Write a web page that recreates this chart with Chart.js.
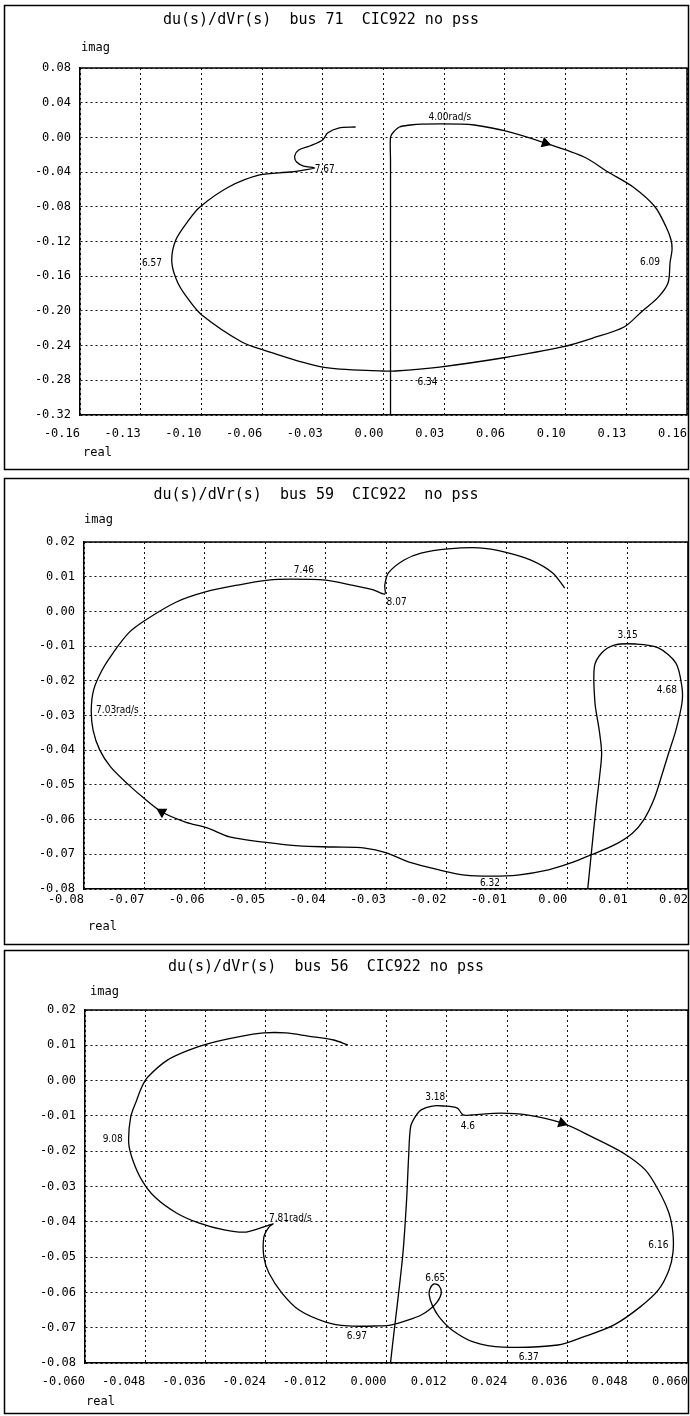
<!DOCTYPE html>
<html>
<head>
<meta charset="utf-8">
<title>du(s)/dVr(s) - CIC922 no pss</title>
<script src="https://cdn.jsdelivr.net/npm/chart.js@4.4.1/dist/chart.umd.min.js"></script>
<style>
  html, body { margin: 0; padding: 0; background: #fff; }
  canvas { display: block; }
</style>
</head>
<body>
<canvas id="bus71" width="690" height="474"></canvas>
<canvas id="bus59" width="690" height="474"></canvas>
<canvas id="bus56" width="690" height="468"></canvas>
<script>
// Frequency response du(s)/dVr(s), three buses

// ---- bus 71 ----
const bus71Title = 'du(s)/dVr(s)  bus 71  CIC922 no pss';
const bus71Real = [0.0037, 0.0037, 0.0037, 0.0053, 0.0084, 0.0142, 0.0200, 0.0410, 0.0479, 0.0642,
  0.0853, 0.1058, 0.1184, 0.1316, 0.1432, 0.1490, 0.1516, 0.1521, 0.1511, 0.1500,
  0.1445, 0.1365, 0.1268, 0.1105, 0.0942, 0.0626, 0.0295, 0.0063, -0.0005, -0.0321,
  -0.0632, -0.0747, -0.0958, -0.1026, -0.1084, -0.1116, -0.1095, -0.1026, -0.0968, -0.0816,
  -0.0653, -0.0495, -0.0421, -0.0363, -0.0421, -0.0458, -0.0468, -0.0447, -0.0389, -0.0321,
  -0.0295, -0.0237, -0.0147];
const bus71Imag = [-0.40, -0.026, 0.0005, 0.0062, 0.0120, 0.0143, 0.0154, 0.0154, 0.0143, 0.0074,
  -0.0065, -0.0226, -0.0399, -0.0572, -0.0802, -0.1033, -0.1183, -0.1298, -0.1436, -0.1678,
  -0.1850, -0.2000, -0.2186, -0.2312, -0.2416, -0.2543, -0.2647, -0.2693, -0.2693, -0.2647,
  -0.2451, -0.2359, -0.2047, -0.1874, -0.1678, -0.1436, -0.1183, -0.0952, -0.0802, -0.0572,
  -0.0433, -0.0399, -0.0376, -0.0353, -0.0330, -0.0284, -0.0214, -0.0145, -0.0099, -0.0030,
  0.0051, 0.0108, 0.0120];
const bus71ArrowIndex = 10;
const bus71FreqText = ['4.00rad/s', '6.09', '6.34', '6.57', '7.67'];
const bus71FreqReal = [0.0237, 0.1405, 0.0232, -0.1221, -0.0363];
const bus71FreqImag = [0.0235, -0.1436, -0.2820, -0.1448, -0.0364];
const bus71XTicks = [-0.16, -0.128, -0.096, -0.064, -0.032, 0, 0.032, 0.064, 0.096, 0.128, 0.16];
const bus71XTickLabels = ['-0.16', '-0.13', '-0.10', '-0.06', '-0.03', '0.00', '0.03', '0.06', '0.10', '0.13', '0.16'];
const bus71YTicks = [-0.32, -0.28, -0.24, -0.20, -0.16, -0.12, -0.08, -0.04, 0, 0.04, 0.08];
const bus71YTickLabels = ['-0.32', '-0.28', '-0.24', '-0.20', '-0.16', '-0.12', '-0.08', '-0.04', '0.00', '0.04', '0.08'];

// ---- bus 59 ----
const bus59Title = 'du(s)/dVr(s)  bus 59  CIC922  no pss';
const bus59Real = [0.0033, 0.0040, 0.0048, 0.0054, 0.0057, 0.0053, 0.0046, 0.0045, 0.0057, 0.0078,
  0.0114, 0.0151, 0.0180, 0.0190, 0.0190, 0.0180, 0.0168, 0.0157, 0.0144, 0.0127,
  0.0108, 0.0078, 0.0039, 0.0006, -0.0031, -0.0082, -0.0125, -0.0169, -0.0212, -0.0263,
  -0.0299, -0.0335, -0.0387, -0.0444, -0.0502, -0.0559, -0.0596, -0.0632, -0.0671, -0.0701,
  -0.0726, -0.0756, -0.0774, -0.0785, -0.0788, -0.0784, -0.0770, -0.0752, -0.0726, -0.0698,
  -0.0647, -0.0599, -0.0545, -0.0495, -0.0459, -0.0400, -0.0357, -0.0321, -0.0302, -0.0302,
  -0.0296, -0.0270, -0.0242, -0.0197, -0.0146, -0.0103, -0.0060, -0.0024, -0.0004];
const bus59Imag = [-0.0817, -0.0696, -0.0560, -0.0470, -0.0408, -0.0342, -0.0264, -0.0160, -0.0120, -0.0097,
  -0.0094, -0.0105, -0.0149, -0.0218, -0.0264, -0.0342, -0.0408, -0.0470, -0.0540, -0.0600,
  -0.0639, -0.0673, -0.0702, -0.0725, -0.0745, -0.0760, -0.0763, -0.0760, -0.0745, -0.0722,
  -0.0696, -0.0682, -0.0679, -0.0676, -0.0665, -0.0650, -0.0624, -0.0607, -0.0578, -0.0538,
  -0.0500, -0.0448, -0.0399, -0.0342, -0.0284, -0.0226, -0.0169, -0.0120, -0.0062, -0.0025,
  0.0027, 0.0056, 0.0076, 0.0090, 0.0093, 0.0090, 0.0076, 0.0062, 0.0050, 0.0076,
  0.0111, 0.0148, 0.0168, 0.0180, 0.0183, 0.0171, 0.0148, 0.0111, 0.0067];
const bus59ArrowIndex = 38;
const bus59FreqText = ['3.15', '4.68', '6.32', '7.03rad/s', '7.46', '8.07'];
const bus59FreqReal = [0.0100, 0.0165, -0.0128, -0.0780, -0.0436, -0.0299];
const bus59FreqImag = [-0.0068, -0.0227, -0.0783, -0.0284, 0.0119, 0.0027];
const bus59XTicks = [-0.08, -0.07, -0.06, -0.05, -0.04, -0.03, -0.02, -0.01, 0, 0.01, 0.02];
const bus59XTickLabels = ['-0.08', '-0.07', '-0.06', '-0.05', '-0.04', '-0.03', '-0.02', '-0.01', '0.00', '0.01', '0.02'];
const bus59YTicks = [-0.08, -0.07, -0.06, -0.05, -0.04, -0.03, -0.02, -0.01, 0, 0.01, 0.02];
const bus59YTickLabels = ['-0.08', '-0.07', '-0.06', '-0.05', '-0.04', '-0.03', '-0.02', '-0.01', '0.00', '0.01', '0.02'];

// ---- bus 56 ----
const bus56Title = 'du(s)/dVr(s)  bus 56  CIC922 no pss';
const bus56Real = [0.0006, 0.0008, 0.0032, 0.0040, 0.0044, 0.0048, 0.0057, 0.0069, 0.0091, 0.0113,
  0.0141, 0.0152, 0.0170, 0.0228, 0.0279, 0.0349, 0.0410, 0.0471, 0.0515, 0.0541,
  0.0562, 0.0570, 0.0570, 0.0562, 0.0541, 0.0505, 0.0453, 0.0392, 0.0341, 0.0232,
  0.0174, 0.0131, 0.0105, 0.0091, 0.0085, 0.0087, 0.0095, 0.0105, 0.0109, 0.0101,
  0.0087, 0.0069, 0.0044, 0.0010, -0.0016, -0.0077, -0.0121, -0.0174, -0.0208, -0.0234,
  -0.0244, -0.0244, -0.0234, -0.0226, -0.0279, -0.0323, -0.0374, -0.0418, -0.0461, -0.0487,
  -0.0505, -0.0513, -0.0509, -0.0497, -0.0487, -0.0475, -0.0436, -0.0392, -0.0349, -0.0295,
  -0.0244, -0.0200, -0.0156, -0.0105, -0.0077];
const bus56Imag = [-0.0848, -0.0800, -0.0500, -0.0338, -0.0216, -0.0131, -0.0103, -0.0083, -0.0072, -0.0072,
  -0.0078, -0.0097, -0.0097, -0.0092, -0.0097, -0.0120, -0.0160, -0.0205, -0.0253, -0.0310,
  -0.0375, -0.0432, -0.0488, -0.0537, -0.0593, -0.0641, -0.0692, -0.0726, -0.0749, -0.0755,
  -0.0741, -0.0707, -0.0670, -0.0636, -0.0607, -0.0588, -0.0576, -0.0582, -0.0602, -0.0627,
  -0.0647, -0.0664, -0.0678, -0.0692, -0.0695, -0.0695, -0.0684, -0.0650, -0.0602, -0.0545,
  -0.0500, -0.0443, -0.0415, -0.0406, -0.0429, -0.0423, -0.0403, -0.0375, -0.0330, -0.0282,
  -0.0225, -0.0177, -0.0103, -0.0055, -0.0018, 0.0010, 0.0058, 0.0087, 0.0107, 0.0124,
  0.0135, 0.0135, 0.0126, 0.0115, 0.0101];
const bus56ArrowIndex = 15;
const bus56FreqText = ['3.18', '4.6', '6.16', '6.37', '6.65', '6.97', '7.81rad/s', '9.08'];
const bus56FreqReal = [0.0097, 0.0162, 0.0541, 0.0283, 0.0097, -0.0059, -0.0234, -0.0545];
const bus56FreqImag = [-0.0049, -0.0131, -0.0466, -0.0783, -0.0559, -0.0726, -0.0389, -0.0168];
const bus56XTicks = [-0.06, -0.048, -0.036, -0.024, -0.012, 0, 0.012, 0.024, 0.036, 0.048, 0.06];
const bus56XTickLabels = ['-0.060', '-0.048', '-0.036', '-0.024', '-0.012', '0.000', '0.012', '0.024', '0.036', '0.048', '0.060'];
const bus56YTicks = [-0.08, -0.07, -0.06, -0.05, -0.04, -0.03, -0.02, -0.01, 0, 0.01, 0.02];
const bus56YTickLabels = ['-0.08', '-0.07', '-0.06', '-0.05', '-0.04', '-0.03', '-0.02', '-0.01', '0.00', '0.01', '0.02'];

const MONO = '"DejaVu Sans Mono", monospace';
const NARROW = '"Liberation Sans Narrow", "DejaVu Sans Condensed", sans-serif';

// layout of each panel in canvas pixels (the plot box, the outer frame, text anchors)
const panels = [
  {
    id: 'bus71', title: bus71Title, real: bus71Real, imag: bus71Imag, arrowIndex: bus71ArrowIndex, arrowRotation: 108,
    freqText: bus71FreqText, freqReal: bus71FreqReal, freqImag: bus71FreqImag,
    freqAlign: ['left', 'center', 'center', 'center', 'left'],
    xTicks: bus71XTicks, xTickLabels: bus71XTickLabels, yTicks: bus71YTicks, yTickLabels: bus71YTickLabels,
    area: { left: 80, right: 687, top: 68, bottom: 415 }, xLabelPad: 12,
    frame: [4.5, 5.5, 688.5, 469.5], titleAt: [321, 20], imagAt: [81, 48], realAt: [83, 453]
  },
  {
    id: 'bus59', title: bus59Title, real: bus59Real, imag: bus59Imag, arrowIndex: bus59ArrowIndex, arrowRotation: -60,
    freqText: bus59FreqText, freqReal: bus59FreqReal, freqImag: bus59FreqImag,
    freqAlign: ['center', 'center', 'center', 'left', 'center', 'left'],
    xTicks: bus59XTicks, xTickLabels: bus59XTickLabels, yTicks: bus59YTicks, yTickLabels: bus59YTickLabels,
    area: { left: 84, right: 688, top: 68, bottom: 415 }, xLabelPad: 4,
    frame: [4.5, 4.5, 688.5, 470.5], titleAt: [316, 21], imagAt: [84, 46], realAt: [88, 453]
  },
  {
    id: 'bus56', title: bus56Title, real: bus56Real, imag: bus56Imag, arrowIndex: bus56ArrowIndex, arrowRotation: 108,
    freqText: bus56FreqText, freqReal: bus56FreqReal, freqImag: bus56FreqImag,
    freqAlign: ['center', 'center', 'center', 'center', 'center', 'center', 'left', 'center'],
    xTicks: bus56XTicks, xTickLabels: bus56XTickLabels, yTicks: bus56YTicks, yTickLabels: bus56YTickLabels,
    area: { left: 85, right: 688, top: 62, bottom: 415 }, xLabelPad: 12,
    frame: [4.5, 2.5, 688.5, 465.5], titleAt: [326, 19], imagAt: [90, 44], realAt: [86, 454]
  }
];

function makePanel(p) {
  const canvas = document.getElementById(p.id);
  const yAxisWidth = 60;
  const xAxisHeight = 40;

  // frame, box, title, axis names and the frequency marks along the curve
  const decor = {
    id: 'decor',
    afterDraw(chart) {
      const { ctx, chartArea: a, scales } = chart;
      ctx.save();
      ctx.strokeStyle = '#000';
      ctx.lineWidth = 1.5;
      ctx.strokeRect(p.frame[0], p.frame[1], p.frame[2] - p.frame[0], p.frame[3] - p.frame[1]);
      ctx.beginPath();
      ctx.moveTo(a.left, a.top);
      ctx.lineTo(a.right, a.top);
      ctx.lineTo(a.right, a.bottom);
      ctx.stroke();

      ctx.fillStyle = '#000';
      ctx.textBaseline = 'middle';
      ctx.textAlign = 'center';
      ctx.font = '15px ' + MONO;
      ctx.fillText(p.title, p.titleAt[0], p.titleAt[1]);

      ctx.textAlign = 'left';
      ctx.font = '12px ' + MONO;
      ctx.fillText('imag', p.imagAt[0], p.imagAt[1]);
      ctx.fillText('real', p.realAt[0], p.realAt[1]);

      ctx.font = '10px ' + NARROW;
      p.freqText.forEach((t, i) => {
        ctx.textAlign = p.freqAlign[i];
        ctx.fillText(t, scales.x.getPixelForValue(p.freqReal[i]), scales.y.getPixelForValue(p.freqImag[i]));
      });
      ctx.restore();
    }
  };

  return new Chart(canvas.getContext('2d'), {
    type: 'scatter',
    data: {
      datasets: [{
        data: p.real.map((r, i) => ({ x: r, y: p.imag[i] })),
        showLine: true,
        fill: false,
        borderColor: '#000',
        borderWidth: 1.3,
        tension: 0.3,
        pointStyle: 'triangle',
        rotation: p.arrowRotation,
        pointRadius: ctx => (ctx.dataIndex === p.arrowIndex ? 5 : 0),
        pointHoverRadius: 0,
        pointBackgroundColor: '#000',
        pointBorderColor: '#000'
      }]
    },
    options: {
      responsive: false,
      animation: false,
      events: [],
      layout: {
        padding: {
          left: p.area.left - yAxisWidth,
          right: canvas.width - p.area.right,
          top: p.area.top,
          bottom: canvas.height - p.area.bottom - xAxisHeight
        }
      },
      plugins: {
        legend: { display: false },
        tooltip: { enabled: false }
      },
      scales: {
        x: {
          type: 'linear',
          min: p.xTicks[0],
          max: p.xTicks[p.xTicks.length - 1],
          afterBuildTicks: axis => { axis.ticks = p.xTicks.map(v => ({ value: v })); },
          afterFit: axis => {
            axis.height = xAxisHeight;
            // labels end at their tick, nothing hangs past the right edge
            axis.paddingRight = 0;
          },
          grid: { color: '#111', lineWidth: 1, drawTicks: false },
          border: { color: '#000', width: 1.5, dash: [2, 3] },
          ticks: {
            autoSkip: false,
            maxRotation: 0,
            align: 'end',
            padding: p.xLabelPad,
            color: '#000',
            font: { family: MONO, size: 12 },
            callback: (v, i) => p.xTickLabels[i]
          }
        },
        y: {
          type: 'linear',
          min: p.yTicks[0],
          max: p.yTicks[p.yTicks.length - 1],
          afterBuildTicks: axis => { axis.ticks = p.yTicks.map(v => ({ value: v })); },
          afterFit: axis => { axis.width = yAxisWidth; },
          grid: { color: '#111', lineWidth: 1, drawTicks: false },
          border: { color: '#000', width: 1.5, dash: [2, 3] },
          ticks: {
            autoSkip: false,
            padding: 9,
            color: '#000',
            font: { family: MONO, size: 12 },
            callback: (v, i) => p.yTickLabels[i]
          }
        }
      }
    },
    plugins: [decor]
  });
}

panels.forEach(makePanel);
</script>
</body>
</html>
